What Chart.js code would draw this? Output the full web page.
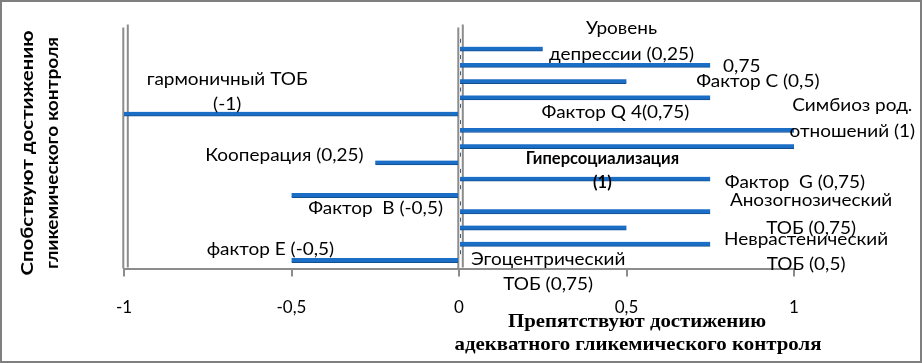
<!DOCTYPE html>
<html>
<head>
<meta charset="utf-8">
<script src="https://cdn.jsdelivr.net/npm/chart.js@4.4.1/dist/chart.umd.min.js"></script>
<style>
  html, body { margin: 0; padding: 0; background: #fff; }
  #wrap { width: 922px; height: 363px; }
</style>
</head>
<body>
<div id="wrap"><canvas id="chart" width="922" height="363"></canvas></div>
<script>
// ---- data ----
const categories = ['', 'Уровень депрессии', '0,75', 'Фактор С', 'Фактор Q4', 'гармоничный ТОБ',
    'Симбиоз род. отношений', 'Гиперсоциализация', 'Кооперация', 'Фактор G', 'Фактор B',
    'Анозогнозический ТОБ', 'Неврастенический ТОБ', 'Эгоцентрический ТОБ', 'фактор Е'];
const values = [null, 0.25, 0.75, 0.5, 0.75, -1, 1, 1, -0.25, 0.75, -0.5, 0.75, 0.5, 0.75, -0.5];
const tickLabels = ['-1', '-0,5', '0', '0,5', '1'];
const barLabels = [
    [],
    ['Уровень', 'депрессии (0,25)'],
    ['0,75'],
    ['Фактор С (0,5)'],
    ['Фактор Q 4(0,75)'],
    ['гармоничный ТОБ', '(-1)'],
    ['Симбиоз род.', 'отношений (1)'],
    ['Гиперсоциализация', '(1)'],
    ['Кооперация (0,25)'],
    ['Фактор  G (0,75)'],
    ['Фактор  B (-0,5)'],
    ['Анозогнозический', 'ТОБ (0,75)'],
    ['Неврастенический', 'ТОБ (0,5)'],
    ['Эгоцентрический', 'ТОБ (0,75)'],
    ['фактор Е (-0,5)']
];
const xTitle = ['Препятствуют достижению', 'адекватного гликемического контроля'];
const yTitle = ['Спобствуют достижению', 'гликемического контроля'];

// where each data label sits: centre in axis units, line baselines relative to the row
const labelSpots = [
    null,
    { at: 0.485, dy: [-15.4, 10.6] },
    { at: 0.844, dy: [7.3] },
    { at: 0.892, dy: [5.6] },
    { at: 0.467, dy: [19.8] },
    { at: -0.692, dy: [-29, -4] },
    { at: 1.174, dy: [-19.2, 6.3] },
    { at: 0.428, dy: [17.5, 41.5], bold: true },
    { at: -0.521, dy: [-1.8] },
    { at: 1.003, dy: [9] },
    { at: -0.249, dy: [18.7] },
    { at: 1.051, dy: [-5.6, 22.4] },
    { at: 1.036, dy: [17.2, 42.2] },
    { at: 0.266, dy: [20.9, 45.9] },
    { at: -0.563, dy: [-5.4] }
];

const GRAY = '#8c8c8c';
const LABEL_FONT = '16.5px Lato';
const STRETCH = 1.15;

function fitText(ctx, text, cx, y, width) {
    const w = ctx.measureText(text).width;
    ctx.save();
    ctx.translate(cx, y);
    ctx.scale(width / w, 1);
    ctx.textAlign = 'center';
    ctx.fillText(text, 0, 0);
    ctx.restore();
}

function wideText(ctx, text, cx, y, sx) {
    ctx.save();
    ctx.translate(cx, y);
    ctx.scale(sx, 1);
    ctx.fillText(text, 0, 0);
    ctx.restore();
}

const decorPlugin = {
    id: 'decor',
    beforeDatasetsDraw(chart) {
        const { ctx, chartArea: a, scales: { x, y } } = chart;
        ctx.save();
        ctx.strokeStyle = GRAY;
        ctx.lineWidth = 2;
        [-1, 0].forEach(v => {
            const px = x.getPixelForValue(v);
            ctx.beginPath();
            ctx.moveTo(px - 0.7, a.top + 3);
            ctx.lineTo(px - 0.7, a.bottom);
            ctx.moveTo(px + 3.8, a.top);
            ctx.lineTo(px + 3.8, a.bottom - 1);
            ctx.stroke();
        });
        // category ticks on the zero axis
        const zx = x.getPixelForValue(0);
        ctx.strokeStyle = '#3d5f86';
        ctx.lineWidth = 1;
        for (let i = 1; i < categories.length; i++) {
            const by = (y.getPixelForValue(i - 1) + y.getPixelForValue(i)) / 2;
            ctx.beginPath();
            ctx.moveTo(zx + 1.5, by - 2);
            ctx.lineTo(zx + 1.5, by + 2);
            ctx.stroke();
        }
        ctx.restore();
    },
    afterDraw(chart) {
        const { ctx, scales: { x, y } } = chart;
        ctx.save();
        ctx.fillStyle = '#000';
        ctx.textAlign = 'center';
        ctx.textBaseline = 'alphabetic';
        barLabels.forEach((lines, i) => {
            const spot = labelSpots[i];
            if (!spot) return;
            ctx.font = (spot.bold ? 'bold ' : '') + LABEL_FONT;
            const cx = x.getPixelForValue(spot.at);
            const cy = y.getPixelForValue(i);
            lines.forEach((t, k) => wideText(ctx, t, cx, cy + spot.dy[k], spot.bold ? 1.0 : STRETCH));
        });

        // x axis title
        ctx.font = 'bold 19px "Liberation Serif"';
        fitText(ctx, xTitle[0], 637, 327, 258);
        fitText(ctx, xTitle[1], 638, 350, 367);

        // y axis title
        ctx.font = 'bold 17px Lato';
        ctx.textBaseline = 'middle';
        ctx.save();
        ctx.translate(0, 153);
        ctx.rotate(-Math.PI / 2);
        fitText(ctx, yTitle[0], 0, 28, 245);
        fitText(ctx, yTitle[1], 0, 53, 232);
        ctx.restore();

        // outer frame
        ctx.strokeStyle = '#7f7f7f';
        ctx.lineWidth = 2;
        ctx.strokeRect(1, 1, chart.width - 2, chart.height - 2);
        ctx.restore();
    }
};

new Chart(document.getElementById('chart').getContext('2d'), {
    type: 'bar',
    data: {
        labels: categories,
        datasets: [{
            data: values,
            backgroundColor: '#1b6ec6',
            borderColor: '#134f8e',
            borderWidth: { bottom: 1, top: 0, left: 0, right: 0 },
            borderSkipped: false,
            barThickness: 4.5
        }]
    },
    options: {
        indexAxis: 'y',
        responsive: false,
        animation: false,
        devicePixelRatio: 1,
        layout: { padding: { left: 124, right: 128, top: 24.5, bottom: 0 } },
        plugins: { legend: { display: false }, tooltip: { enabled: false } },
        scales: {
            x: {
                min: -1,
                max: 1,
                afterFit: s => { s.height = 363 - 268.5; },
                ticks: {
                    stepSize: 0.5,
                    maxRotation: 0,
                    padding: 21,
                    color: '#000',
                    font: { family: 'Lato', size: 17 },
                    callback: (v, i) => tickLabels[i]
                },
                grid: { drawOnChartArea: false, drawTicks: true, tickLength: 8, color: GRAY, lineWidth: 2 },
                border: { display: true, color: GRAY, width: 2 }
            },
            y: { display: false }
        }
    },
    plugins: [decorPlugin]
});
</script>
</body>
</html>
